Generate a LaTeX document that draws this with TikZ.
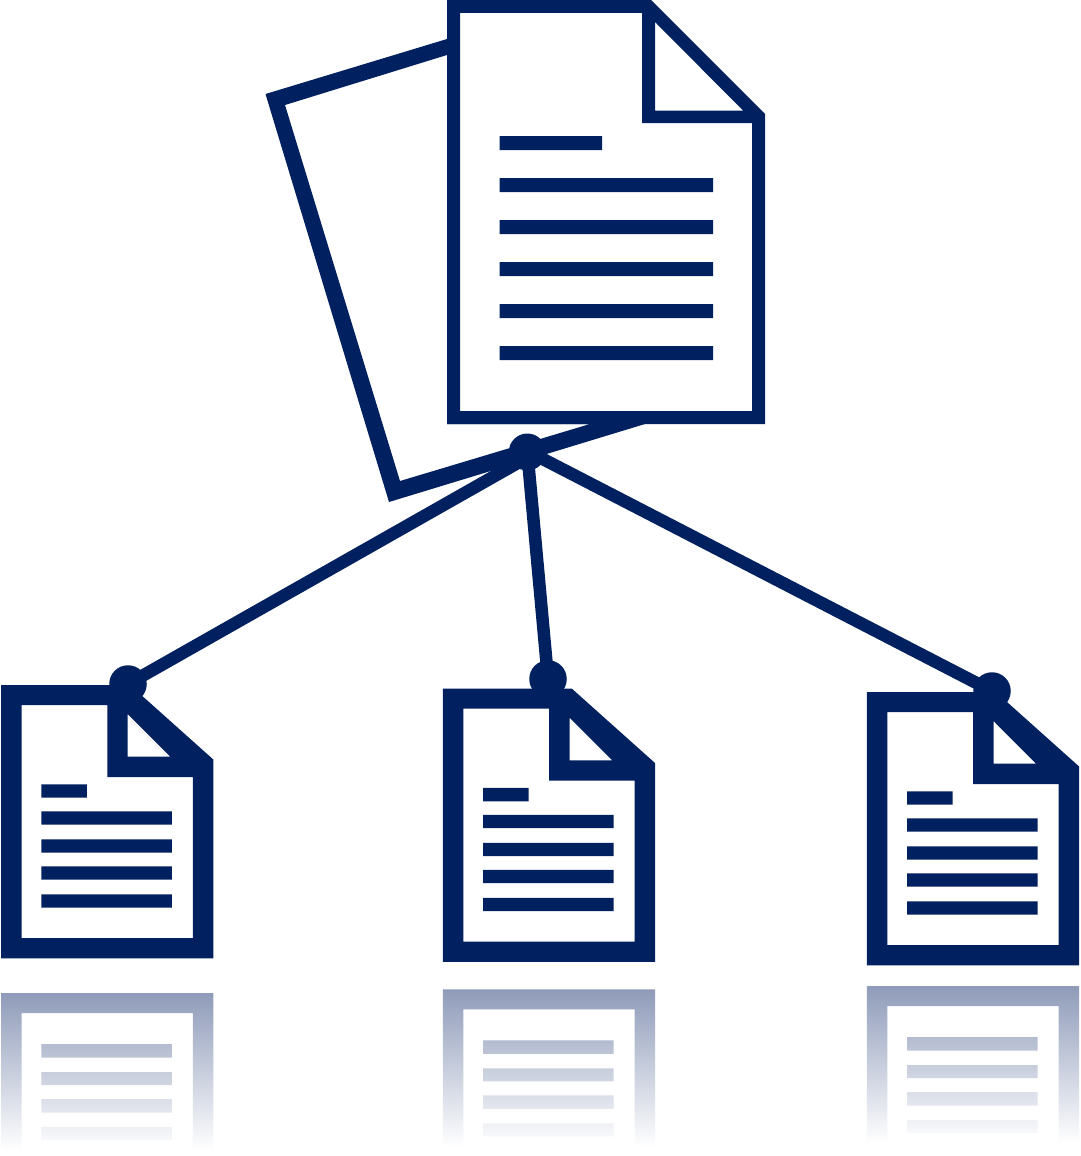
\documentclass[tikz,border=0pt]{standalone}
\definecolor{navy}{HTML}{002060}
\definecolor{fadetop}{HTML}{8F9BB9}
\tikzset{
  dotnode/.style={circle,fill=navy,draw=none,inner sep=0pt,minimum size=37.5pt},
  hubnode/.style={circle,fill=navy,draw=none,inner sep=0pt,minimum size=37pt},
  link/.style={draw=navy,line width=12.5pt},
  solid sheet/.style={fill=navy,even odd rule,draw=none},
  fade sheet/.style={even odd rule,draw=none,top color=fadetop,bottom color=white,shading angle=0},
  pics/smalldoc/.style={code={
    \path[solid sheet]
      (1,685) -- (130,685) -- (213.3,759.5) -- (213.3,958.3) -- (1,958.3) -- cycle
      (21.5,705) -- (107.3,705) -- (107.3,777) -- (192.8,777) -- (192.8,938) -- (21.5,938) -- cycle
      (127.7,714) -- (170.3,756.7) -- (127.7,756.7) -- cycle
      (41.3,784.3) rectangle (86.8,797.7)
      (41.3,811.3) rectangle (171.8,824.6)
      (41.3,839.3) rectangle (171.8,852.6)
      (41.3,866.3) rectangle (171.8,879.6)
      (41.3,894.3) rectangle (171.8,907.6);
  }},
  pics/mirrordoc/.style={code={
    \path[fade sheet]
      (1,993) rectangle (213.3,1150)
      (21.5,1013) rectangle (192.8,1150)
      (41.3,1044) rectangle (171.8,1057.5)
      (41.3,1072) rectangle (171.8,1085)
      (41.3,1099) rectangle (171.8,1112.5)
      (41.3,1127) rectangle (171.8,1140);
  }}
}
\begin{document}
\begin{tikzpicture}[x=1pt,y=-1pt]
\useasboundingbox (0,0) rectangle (1080,1156);
\fill[white] (0,0) rectangle (1080,1156);
% back sheet
\path[solid sheet]
  (265.5,94) -- (447,39) -- (447,424) -- (645,424) -- (389,502) -- cycle
  (285,105) -- (447,55) -- (447,424) -- (590,424) -- (400,481) -- cycle;
% main document
\path[solid sheet]
  (447,0) -- (651,0) -- (765,114) -- (765,424) -- (447,424) -- cycle
  (460,13) -- (642,13) -- (642,123) -- (752,123) -- (752,411) -- (460,411) -- cycle
  (655,22) -- (743,110.5) -- (655,110.5) -- cycle
  (499.5,136) rectangle (602,150)
  (499.5,178) rectangle (713,192)
  (499.5,220) rectangle (713,234)
  (499.5,262) rectangle (713,276)
  (499.5,304) rectangle (713,318)
  (499.5,346) rectangle (713,360);
% small documents
\pic at (0,0) {smalldoc};
\pic at (441.8,3.6) {smalldoc};
\pic at (865.8,7) {smalldoc};
% reflections
\pic at (0,0) {mirrordoc};
\pic at (441.8,-3.6) {mirrordoc};
\pic at (865.8,-7) {mirrordoc};
% hub and connectors
\node[hubnode] (hub) at (527.3,452) {};
\node[dotnode] (dotA) at (128,684) {};
\node[dotnode] (dotB) at (548,679) {};
\node[dotnode] (dotC) at (992,691) {};
\draw[link] ([yshift=-5.5pt]hub.center) -- (dotA.center);
\draw[link] (hub.center) -- (dotB.center);
\draw[link] ([xshift=2pt]hub.center) -- (dotC.center);
\end{tikzpicture}
\end{document}
